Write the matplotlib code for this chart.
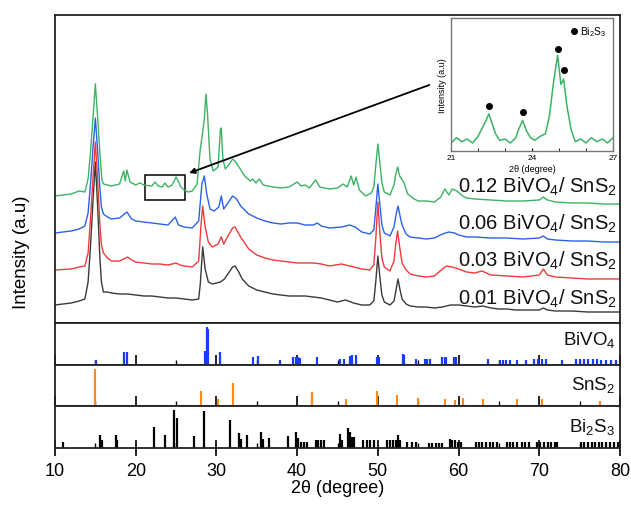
import numpy as np
import matplotlib
matplotlib.use("Agg")
import matplotlib.pyplot as plt
from matplotlib.patches import Rectangle
from matplotlib.ticker import MultipleLocator

plt.rcParams["font.family"] = ["Liberation Sans", "DejaVu Sans"]
plt.rcParams["mathtext.fontset"] = "custom"
plt.rcParams["mathtext.rm"] = "Liberation Sans"
plt.rcParams["mathtext.default"] = "regular"

# stacked XRD patterns (2theta, intensity incl. display offset)
black_pts = [
    (10, 18), (11, 19), (12, 20), (13, 22), (13.7, 24), (14.1, 41), (14.4, 77), (14.7, 121),
    (15.0, 161), (15.3, 114), (15.55, 67), (15.75, 41), (16.0, 31), (16.5, 31), (17, 30), (18, 29),
    (19, 29), (20, 28), (21, 27), (22, 27), (23, 26), (24, 25), (25, 25), (26, 24), (27, 23),
    (27.8, 24), (28.0, 39), (28.3, 76), (28.6, 54), (29.0, 41), (29.5, 39), (30.0, 40), (30.5, 41),
    (31.0, 44), (31.5, 50), (32.0, 56), (32.3, 57), (32.7, 52), (33.2, 44), (34, 37), (35, 33),
    (36, 31), (37, 29), (38, 28), (39, 27), (40, 27), (41, 27), (42, 26), (43, 25), (44, 23),
    (45, 21), (46, 23), (47, 20), (48, 18), (49, 18), (49.5, 22), (49.75, 42), (50.0, 67),
    (50.25, 46), (50.5, 28), (50.8, 21), (51.5, 18), (52.0, 22), (52.25, 33), (52.5, 44),
    (52.75, 33), (53.0, 24), (53.5, 19), (54, 17), (55, 16), (56, 16), (57, 15), (58, 16),
    (59, 18), (60, 18), (61, 17), (62, 16), (63, 17), (64, 15), (65, 14), (66, 14), (67, 13),
    (68, 13), (69, 13), (70, 13), (70.5, 15), (71, 13), (72, 12), (74, 12), (76, 11), (78, 11),
    (80, 11)]

red_pts = [
    (10, 53), (12, 54), (13, 56), (13.7, 57), (14.1, 70), (14.4, 104), (14.7, 144), (15.0, 181),
    (15.3, 140), (15.55, 100), (15.75, 78), (16.0, 70), (16.5, 65), (17, 62), (18, 62), (19, 66),
    (19.5, 63), (20, 61), (21, 60), (22, 59), (23, 59), (24, 58), (25, 60), (25.5, 58), (26, 57),
    (27, 56), (27.8, 62), (28.1, 99), (28.3, 117), (28.6, 96), (29.0, 81), (29.5, 76), (30.2, 79),
    (30.6, 86), (30.9, 79), (31.5, 88), (32.0, 95), (32.3, 96), (33.0, 86), (34, 74), (35, 68),
    (36, 65), (37, 63), (38, 62), (39, 61), (40, 60), (41, 60), (42, 60), (43, 59), (44, 57),
    (45.5, 59), (47, 56), (48, 54), (49, 53), (49.5, 58), (49.75, 85), (50.0, 121), (50.25, 90),
    (50.5, 65), (50.8, 56), (51.5, 52), (52.0, 62), (52.2, 78), (52.45, 92), (52.7, 76),
    (53.0, 60), (53.5, 53), (54, 49), (55, 47), (56, 46), (57, 47), (58, 54), (58.5, 57),
    (59.2, 56), (60, 54), (61, 51), (62, 50), (62.9, 52), (64, 48), (66, 47), (68, 46), (70, 48),
    (70.5, 54), (71, 48), (72, 46), (74, 45), (76, 44), (78, 44), (80, 44)]

blue_pts = [
    (10, 90), (12, 92), (13, 94), (13.7, 97), (14.1, 110), (14.4, 139), (14.7, 174), (15.0, 205),
    (15.3, 170), (15.55, 136), (15.75, 116), (16.0, 109), (16.5, 106), (17, 104), (18, 105),
    (18.9, 111), (19.5, 104), (20, 102), (21, 101), (22, 100), (23, 99), (24, 98), (24.9, 106),
    (25.3, 98), (26, 96), (27, 95), (27.8, 102), (28.2, 139), (28.5, 147), (28.8, 129),
    (29.2, 114), (29.7, 112), (30.3, 116), (30.6, 127), (30.9, 114), (31.5, 121), (32.0, 127),
    (32.5, 124), (33.0, 117), (34, 109), (35, 105), (36, 102), (37, 100), (38, 99), (39, 100),
    (40, 100), (41, 98), (42, 98), (42.5, 100), (43, 97), (44, 95), (45.5, 96), (46.5, 98),
    (47.2, 96), (48, 91), (49, 89), (49.5, 93), (49.75, 115), (50.0, 139), (50.25, 118),
    (50.5, 98), (50.8, 90), (51.5, 87), (52.0, 96), (52.25, 108), (52.5, 117), (52.75, 107),
    (53.0, 98), (53.5, 89), (54, 86), (55, 85), (56, 84), (57, 85), (58, 89), (58.8, 91),
    (59.5, 90), (60, 88), (61, 86), (62, 86), (64, 85), (66, 85), (68, 84), (70, 85), (70.5, 87),
    (71, 84), (72, 83), (74, 82), (76, 82), (78, 81), (80, 81)]

green_pts = [
    (10, 127), (12, 129), (13, 132), (13.7, 131), (14.1, 144), (14.4, 171), (14.7, 204),
    (15.0, 239), (15.3, 204), (15.55, 171), (15.8, 144), (16.0, 139), (17, 137), (18, 139),
    (18.5, 152), (18.7, 142), (18.9, 153), (19.3, 141), (20, 138), (20.5, 140), (21, 138),
    (22, 137), (22.4, 141), (22.8, 137), (23.3, 136), (23.6, 140), (24.0, 136), (24.5, 138),
    (25.0, 146), (25.2, 143), (25.6, 136), (26, 133), (26.5, 131), (27, 132), (27.6, 139),
    (28.0, 174), (28.3, 191), (28.5, 204), (28.7, 229), (28.9, 209), (29.2, 164), (29.6, 152),
    (30.2, 156), (30.5, 194), (30.6, 195), (30.8, 164), (31.1, 154), (31.6, 159), (32.0, 164),
    (32.3, 162), (32.8, 156), (33.5, 147), (34.2, 142), (34.5, 144), (34.9, 140), (35.3, 144),
    (35.8, 138), (37, 136), (38, 135), (39, 136), (40, 141), (40.5, 137), (41, 138), (41.5, 135),
    (42.3, 143), (42.8, 136), (44, 134), (45, 135), (45.7, 139), (46.2, 136), (46.7, 147),
    (47.0, 138), (47.3, 146), (47.7, 133), (48.5, 127), (49.2, 130), (49.5, 136), (49.75, 158),
    (50.0, 179), (50.25, 160), (50.5, 140), (50.8, 131), (51.5, 128), (52.0, 138), (52.2, 148),
    (52.45, 156), (52.7, 147), (53.2, 141), (53.7, 129), (54.5, 124), (55, 122), (56, 122),
    (57, 121), (57.8, 126), (58.3, 134), (58.8, 128), (59.2, 134), (59.8, 132), (60.5, 127),
    (61, 125), (62, 124), (64, 123), (66, 122), (68, 122), (70, 123), (70.5, 126), (71, 123),
    (72, 121), (74, 120), (76, 120), (78, 119), (80, 119)]

series = [
    (black_pts, "#3a3a3a", "0.01 BiVO$_4$/ SnS$_2$", 0.062),
    (red_pts, "#ee3b3b", "0.03 BiVO$_4$/ SnS$_2$", 0.185),
    (blue_pts, "#2a62e6", "0.06 BiVO$_4$/ SnS$_2$", 0.305),
    (green_pts, "#3bb364", "0.12 BiVO$_4$/ SnS$_2$", 0.425),
]

# reference stick patterns (relative intensity)
bivo4_pos = [15.05, 18.6, 18.9, 28.6, 28.8, 28.95, 30.5, 34.5, 35.2, 37.9, 39.5, 39.8, 40.1, 40.3,
             42.4, 45.3, 45.8, 46.5, 46.8, 47.3, 49.9, 50.2, 53.1, 53.3, 54.7, 55.8, 56.1, 56.4,
             58.0, 58.3, 58.5, 59.4, 59.7, 63.6, 65.1, 65.5, 65.9, 66.4, 67.2, 68.3, 69.4, 69.9,
             70.3, 70.8, 72.8, 74.5, 75.0, 75.5, 76.0, 76.6, 77.2, 77.7, 78.3, 78.9, 79.5]
bivo4_int = [0.12, 0.31, 0.31, 0.33, 0.9, 0.85, 0.31, 0.2, 0.22, 0.12, 0.19, 0.19, 0.19, 0.17,
             0.2, 0.14, 0.14, 0.22, 0.24, 0.24, 0.18, 0.18, 0.26, 0.24, 0.14, 0.14, 0.14, 0.14,
             0.18, 0.18, 0.2, 0.2, 0.2, 0.14, 0.12, 0.12, 0.12, 0.12, 0.12, 0.12, 0.14, 0.14,
             0.14, 0.14, 0.12, 0.15, 0.15, 0.15, 0.15, 0.15, 0.15, 0.12, 0.12, 0.12, 0.12]

sns2_pos = [15.0, 28.1, 30.2, 32.1, 41.8, 46.1, 49.9, 52.4, 55.0, 58.3, 59.6, 60.6, 63.0, 67.2,
            70.3, 77.5]
sns2_int = [0.9, 0.37, 0.17, 0.55, 0.33, 0.17, 0.37, 0.28, 0.2, 0.16, 0.15, 0.19, 0.16, 0.17,
            0.17, 0.13]

bi2s3_pos = [11.05, 15.6, 15.8, 17.5, 17.7, 22.3, 23.6, 24.8, 25.1, 27.2, 28.5, 31.7, 32.8, 33.0,
             33.8, 35.5, 35.8, 36.5, 38.9, 39.8, 40.1, 40.5, 40.8, 41.2, 42.3, 42.6, 43.0, 43.3,
             45.3, 45.6, 46.3, 46.5, 46.7, 46.9, 47.1, 48.1, 48.6, 49.0, 49.5, 51.1, 51.5, 51.9,
             52.3, 52.5, 52.7, 53.6, 54.2, 54.7, 56.3, 56.7, 57.2, 57.6, 58.0, 58.9, 59.2, 59.5,
             59.9, 60.3, 62.1, 62.5, 62.9, 63.4, 63.9, 64.3, 64.8, 66.0, 66.4, 66.8, 67.3, 67.8,
             68.2, 68.7, 69.7, 70.1, 70.6, 71.1, 71.5, 71.9, 72.2, 75.2, 75.6, 76.0, 76.5, 76.9,
             77.4, 77.8, 78.3, 78.8, 79.3, 79.8]
bi2s3_int = [0.14, 0.31, 0.18, 0.32, 0.18, 0.5, 0.32, 0.9, 0.71, 0.28, 0.88, 0.66, 0.36, 0.22,
             0.3, 0.39, 0.22, 0.23, 0.28, 0.38, 0.24, 0.14, 0.14, 0.14, 0.2, 0.2, 0.2, 0.2,
             0.34, 0.18, 0.47, 0.39, 0.26, 0.26, 0.26, 0.2, 0.2, 0.2, 0.2, 0.18, 0.18, 0.18,
             0.18, 0.3, 0.18, 0.15, 0.15, 0.15, 0.12, 0.12, 0.12, 0.12, 0.12, 0.22, 0.18, 0.18,
             0.15, 0.15, 0.15, 0.15, 0.15, 0.15, 0.15, 0.15, 0.15, 0.15, 0.15, 0.15, 0.15, 0.15,
             0.15, 0.15, 0.15, 0.15, 0.15, 0.15, 0.15, 0.15, 0.15, 0.14, 0.14, 0.14, 0.14, 0.14,
             0.14, 0.14, 0.14, 0.14, 0.14, 0.14]

# inset: 0.12 BiVO4/SnS2 zoomed 21-27 deg
inset_x = [21.0, 21.2, 21.4, 21.6, 21.8, 22.0, 22.15, 22.3, 22.4, 22.5, 22.65, 22.8, 23.0, 23.2,
           23.4, 23.5, 23.65, 23.8, 23.95, 24.1, 24.3, 24.5, 24.65, 24.8, 24.95, 25.07, 25.17,
           25.3, 25.45, 25.6, 25.8, 26.0, 26.2, 26.4, 26.6, 26.8, 27.0]
inset_y = [0.06, 0.1, 0.07, 0.09, 0.06, 0.11, 0.17, 0.23, 0.28, 0.22, 0.13, 0.08, 0.09, 0.06,
           0.1, 0.16, 0.23, 0.15, 0.1, 0.08, 0.11, 0.13, 0.27, 0.52, 0.72, 0.5, 0.54, 0.33, 0.16,
           0.07, 0.09, 0.06, 0.1, 0.07, 0.09, 0.06, 0.1]
dots_x = [22.4, 23.65, 24.95, 25.2]
dots_y = [0.34, 0.29, 0.77, 0.61]

W, H = 631, 506
fig = plt.figure(figsize=(W / 100, H / 100), dpi=100)


def px_axes(x0, y0, x1, y1):
    return fig.add_axes([x0 / W, 1 - y1 / H, (x1 - x0) / W, (y1 - y0) / H])


ax = px_axes(55, 16, 620, 324)
ax_b = px_axes(55, 324, 620, 366)
ax_s = px_axes(55, 366, 620, 407)
ax_c = px_axes(55, 407, 620, 449)

for a in (ax, ax_b, ax_s, ax_c):
    a.set_xlim(10, 80)
    for sp in a.spines.values():
        sp.set_linewidth(1.3)
        sp.set_color("#222222")
    a.set_yticks([])

for pts, c, lab, ty in series:
    x, y = np.array(pts).T
    ax.plot(x, y, color=c, lw=1.0)
    ax.text(0.995, ty, lab, transform=ax.transAxes, ha="right", va="baseline", fontsize=14.5,
            color="#111111")
ax.set_ylim(0, 308)
ax.set_xticks([])

ax.add_patch(Rectangle((21.15, 123), 26.1 - 21.15, 25, fill=False, ec="black", lw=1.1))
ax.annotate("", xy=(26.3, 149), xytext=(56.7, 239),
            arrowprops=dict(arrowstyle="-|>", color="black", lw=1.3, mutation_scale=8))

for a, pos, inten, c, lab, ly in [
        (ax_b, bivo4_pos, bivo4_int, "#1a3cff", "BiVO$_4$", 0.5),
        (ax_s, sns2_pos, sns2_int, "#ff8a1c", "SnS$_2$", 0.42),
        (ax_c, bi2s3_pos, bi2s3_int, "black", "Bi$_2$S$_3$", 0.41)]:
    a.vlines(pos, 0, inten, color=c, lw=1.6)
    a.set_ylim(0, 1.0)
    a.text(0.992, ly, lab, transform=a.transAxes, ha="right", va="baseline", fontsize=13.5,
           color="#111111")
    a.xaxis.set_major_locator(MultipleLocator(10))
    a.xaxis.set_minor_locator(MultipleLocator(5))
    a.tick_params(axis="x", which="major", direction="in", length=7, width=1.2)
    a.tick_params(axis="x", which="minor", direction="in", length=3.5, width=1.0)
    if a is not ax_c:
        a.tick_params(axis="x", labelbottom=False)

ax_c.tick_params(axis="x", which="major", direction="inout", length=12, labelsize=13, pad=4)
ax_c.set_xlabel("2θ (degree)", fontsize=13, labelpad=0)
fig.text(22 / W, 1 - 252 / H, "Intensity (a.u)", rotation=90, ha="center", va="center",
         fontsize=13.5)

# inset
axi = px_axes(451, 19, 613, 152)
axi.plot(inset_x, inset_y, color="#3bb364", lw=1.1)
axi.plot(dots_x, dots_y, "o", color="black", ms=4, ls="none", label="Bi$_2$S$_3$")
axi.set_xlim(21, 27)
axi.set_ylim(0, 1)
axi.set_yticks([])
axi.set_xticks([21, 24, 27])
axi.xaxis.set_minor_locator(MultipleLocator(1))
axi.tick_params(axis="x", which="both", direction="in", labelsize=6, length=2.5, pad=2)
axi.set_xlabel("2θ (degree)", fontsize=6.5, labelpad=2)
axi.set_ylabel("Intensity (a.u)", fontsize=6.5, labelpad=3)
for sp in axi.spines.values():
    sp.set_color("#777777")
    sp.set_linewidth(1.0)
axi.legend(loc="upper right", frameon=False, fontsize=7.5, handletextpad=0.1,
           borderaxespad=0.2, handlelength=1.0)

fig.savefig("out.png", dpi=100)
